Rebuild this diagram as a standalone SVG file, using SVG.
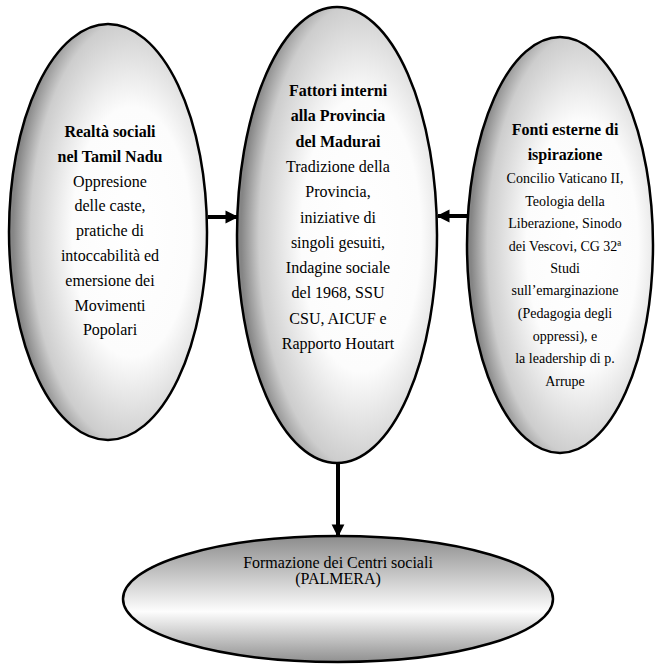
<svg xmlns="http://www.w3.org/2000/svg" width="657" height="665" viewBox="0 0 657 665">
<style>
.shape{stroke:#000;stroke-width:2.5}
text{font-family:'Liberation Serif','Times New Roman','DejaVu Serif',serif;font-size:16px;fill:#000;text-anchor:middle}
.b{font-weight:bold}
.s{font-size:14px}
.conn{stroke:#000;stroke-width:4;fill:none}
</style>
<defs>
<radialGradient id="gv" cx="0.62" cy="0.5" r="0.6" fx="0.62" fy="0.5">
<stop offset="0" stop-color="#ffffff"/>
<stop offset="0.5" stop-color="#fcfcfc"/>
<stop offset="0.85" stop-color="#cdcdcd"/>
<stop offset="1" stop-color="#858585"/>
</radialGradient>
<linearGradient id="gh" x1="0" y1="0" x2="0" y2="1">
<stop offset="0" stop-color="#8c8c8c"/>
<stop offset="0.6" stop-color="#fdfdfd"/>
<stop offset="1" stop-color="#909090"/>
</linearGradient>
<marker id="ah" viewBox="0 0 10 10" refX="9" refY="5" markerWidth="3.2" markerHeight="3.6" orient="auto" markerUnits="strokeWidth">
<path d="M0,0 L10,5 L0,10 z" fill="#000"/>
</marker>
</defs>
<g id="node-left">
<ellipse class="shape" cx="108" cy="232" rx="99" ry="208" fill="url(#gv)"/>
<text class="b" x="110" y="137">Realtà sociali</text>
<text class="b" x="110" y="162">nel Tamil Nadu</text>
<text x="110" y="187">Oppresione</text>
<text x="110" y="211">delle caste,</text>
<text x="110" y="236">pratiche di</text>
<text x="110" y="261">intoccabilità ed</text>
<text x="110" y="286">emersione dei</text>
<text x="110" y="311">Movimenti</text>
<text x="110" y="335">Popolari</text>
</g>
<g id="node-middle">
<ellipse class="shape" cx="337" cy="235" rx="100" ry="228" fill="url(#gv)"/>
<text class="b" x="338" y="96">Fattori interni</text>
<text class="b" x="338" y="121">alla Provincia</text>
<text class="b" x="338" y="147">del Madurai</text>
<text x="338" y="172">Tradizione della</text>
<text x="338" y="197">Provincia,</text>
<text x="338" y="223">iniziative di</text>
<text x="338" y="248">singoli gesuiti,</text>
<text x="338" y="273">Indagine sociale</text>
<text x="338" y="298">del 1968, SSU</text>
<text x="338" y="324">CSU, AICUF e</text>
<text x="338" y="349">Rapporto Houtart</text>
</g>
<g id="node-right">
<ellipse class="shape" cx="560" cy="245" rx="93" ry="208" fill="url(#gv)"/>
<text class="b" x="565" y="135">Fonti esterne di</text>
<text class="b" x="565" y="160">ispirazione</text>
<text class="s" x="565" y="183">Concilio Vaticano II,</text>
<text class="s" x="565" y="206">Teologia della</text>
<text class="s" x="565" y="228">Liberazione, Sinodo</text>
<text class="s" x="565" y="251">dei Vescovi, CG 32ª</text>
<text class="s" x="565" y="273">Studi</text>
<text class="s" x="565" y="295">sull’emarginazione</text>
<text class="s" x="565" y="318">(Pedagogia degli</text>
<text class="s" x="565" y="341">oppressi), e</text>
<text class="s" x="565" y="363">la leadership di p.</text>
<text class="s" x="565" y="386">Arrupe</text>
</g>
<g id="node-bottom">
<ellipse class="shape" cx="338" cy="599" rx="215" ry="63" fill="url(#gh)"/>
<text x="338" y="568">Formazione dei Centri sociali</text>
<text x="338" y="584">(PALMERA)</text>
</g>
<g id="connectors">
<line class="conn" x1="208" y1="217" x2="237" y2="217" marker-end="url(#ah)"/>
<line class="conn" x1="467" y1="216" x2="438" y2="216" marker-end="url(#ah)"/>
<line class="conn" x1="338" y1="463" x2="338" y2="536" marker-end="url(#ah)"/>
</g>
</svg>
